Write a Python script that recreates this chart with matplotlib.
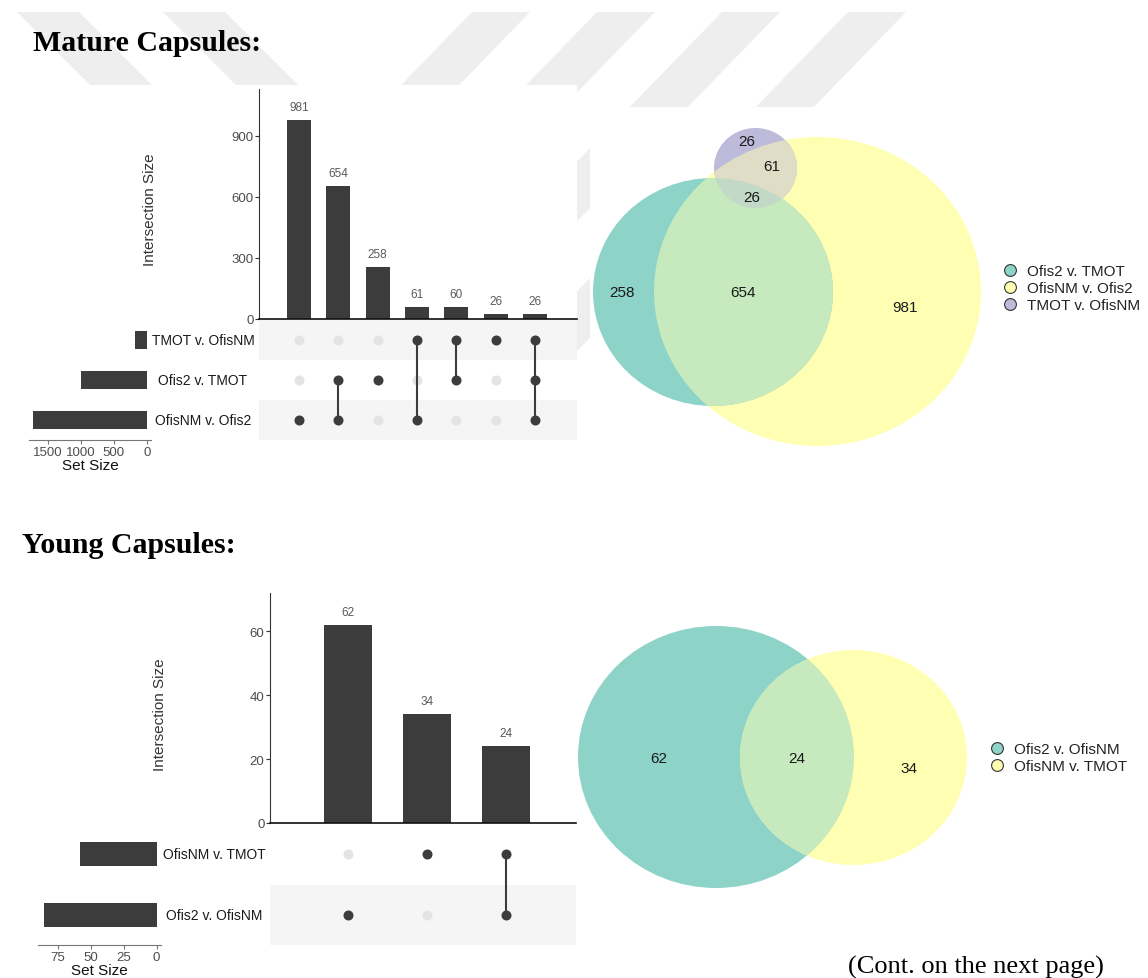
import numpy as np
import matplotlib
matplotlib.use("Agg")
import matplotlib.pyplot as plt
from matplotlib import colors as mcolors
from matplotlib import transforms
from matplotlib.patches import Ellipse, Polygon, Rectangle
from matplotlib.lines import Line2D

plt.rcParams['font.family'] = ['Liberation Sans', 'DejaVu Sans']

# --- dados: conjuntos, interseções (UpSet) e pertença de cada coluna ---
mature_sets = ["TMOT v. OfisNM", "Ofis2 v. TMOT", "OfisNM v. Ofis2"]
mature_counts = [981, 654, 258, 61, 60, 26, 26]
mature_members = [[2], [1, 2], [1], [0, 2], [0, 1], [0], [0, 1, 2]]
mature_venn_sets = ["Ofis2 v. TMOT", "OfisNM v. Ofis2", "TMOT v. OfisNM"]
# regiões do Venn -> coluna do UpSet (só T, T∩Y, só Y, só P, P∩Y, T∩Y∩P)
mature_venn_regions = [2, 1, 0, 5, 3, 6]

young_sets = ["OfisNM v. TMOT", "Ofis2 v. OfisNM"]
young_counts = [62, 34, 24]
young_members = [[1], [0], [0, 1]]
young_venn_sets = ["Ofis2 v. OfisNM", "OfisNM v. TMOT"]
# só T, T∩Y, só Y
young_venn_regions = [0, 2, 1]

TEAL, YELLOW, PURPLE = '#8DD3C7', '#FFFFB3', '#BEBADA'
BAR = '#3c3c3c'
DOT_OFF = '#e4e4e4'
SHADE = '#f5f5f5'
TICK = '#4d4d4d'

W, H = 1148, 979
fig = plt.figure(figsize=(W / 100, H / 100), dpi=100)


def px_axes(x0, y0, x1, y1):
    return fig.add_axes([x0 / W, 1 - y1 / H, (x1 - x0) / W, (y1 - y0) / H])


def mix(*cols):
    return tuple(np.mean([mcolors.to_rgb(c) for c in cols], axis=0))


# fundo da página (marca d'água em faixas + painéis brancos das figuras)
bg = px_axes(0, 0, W, H)
bg.set_xlim(0, W)
bg.set_ylim(H, 0)
bg.axis('off')
for x0 in [472, 597, 722, 848]:
    y1 = 370
    d = 0.97 * (y1 - 13)
    bg.add_patch(Polygon([(x0, 13), (x0 + 58, 13), (x0 + 58 - d, y1), (x0 - d, y1)],
                         color='#eeeeee', lw=0))
for x0 in [17, 163]:
    y1 = 86
    d = 1.0 * (y1 - 13)
    bg.add_patch(Polygon([(x0, 13), (x0 + 62, 13), (x0 + 62 + d, y1), (x0 + d, y1)],
                         color='#eeeeee', lw=0))
bg.add_patch(Rectangle((0, 86), 577, 400, color='white', lw=0))
bg.add_patch(Rectangle((590, 108), 558, 370, color='white', lw=0))

title_font = dict(family='Liberation Serif', fontweight='bold', fontsize=21.5, va='baseline')
bg.text(33, 51, "Mature Capsules:", **title_font)
bg.text(22, 553, "Young Capsules:", **title_font)
bg.text(848, 974, "(Cont. on the next page)", family='Liberation Serif',
        fontsize=19, va='baseline')


def upset(lay, sets, counts, members):
    n, m = len(counts), len(sets)
    cols = np.arange(n)

    # barras das interseções
    ax = px_axes(*lay['bars'])
    ax.bar(cols, counts, width=lay['bar_w'], color=BAR)
    for x, c in zip(cols, counts):
        ax.annotate(str(c), (x, c), xytext=(0, 5), textcoords='offset points',
                    ha='center', va='bottom', fontsize=8.5, color='#595959')
    ax.set_xlim(*lay['xlim'])
    ax.set_ylim(0, lay['ymax'])
    ax.set_yticks(lay['yticks'])
    ax.set_xticks([])
    for s in ['top', 'right']:
        ax.spines[s].set_visible(False)
    ax.spines['left'].set_color('#333333')
    ax.spines['left'].set_linewidth(0.8)
    ax.spines['bottom'].set_color('#111111')
    ax.spines['bottom'].set_linewidth(1.2)
    ax.tick_params(axis='y', length=3, width=0.8, color='#333333', labelsize=9.5,
                   labelcolor=TICK, pad=1)
    ax.text(lay['ylab'][0], lay['ylab'][1], "Intersection Size", transform=ax.transAxes,
            rotation=90, ha='center', va='center', fontsize=11, color='#333333')

    # matriz de pontos
    axm = px_axes(*lay['matrix'])
    axm.set_xlim(*lay['xlim'])
    axm.set_ylim(m - 0.5, -0.5)
    for i in lay['shaded']:
        axm.axhspan(i - 0.5, i + 0.5, color=SHADE, lw=0, zorder=0)
    for j, mem in enumerate(members):
        off = [i for i in range(m) if i not in mem]
        axm.scatter([j] * len(off), off, s=52, color=DOT_OFF, lw=0, zorder=2)
        axm.scatter([j] * len(mem), mem, s=52, color=BAR, lw=0, zorder=4)
        if len(mem) > 1:
            axm.plot([j, j], [min(mem), max(mem)], color=BAR, lw=1.5, zorder=3)
    axm.axis('off')
    tr = transforms.blended_transform_factory(axm.transAxes, axm.transData)
    for i, name in enumerate(sets):
        axm.text(lay['set_lab_x'], i, name, transform=tr, ha='center', va='center',
                 fontsize=10, color='#1a1a1a')

    # tamanho de cada conjunto
    sizes = [sum(c for c, mem in zip(counts, members) if i in mem) for i in range(m)]
    axs = px_axes(*lay['sets'])
    axs.barh(range(m), sizes, height=lay['set_h'], color=BAR)
    axs.set_xlim(*lay['set_xlim'])
    axs.set_ylim(m - 0.5, -0.5)
    axs.set_xticks(lay['set_ticks'])
    axs.set_yticks([])
    for s in ['top', 'right', 'left']:
        axs.spines[s].set_visible(False)
    axs.spines['bottom'].set_color('#777777')
    axs.spines['bottom'].set_linewidth(0.8)
    axs.tick_params(axis='x', length=3, width=0.8, color='#777777', labelsize=9.5,
                    labelcolor=TICK, pad=1)
    axs.set_xlabel("Set Size", fontsize=11, labelpad=0, color='#111111')
    axs.patch.set_alpha(0)


upset(dict(bars=(259, 90, 577, 320), matrix=(259, 321, 577, 441), sets=(29, 321, 151, 441),
           xlim=(-1.02, 7.07), ymax=1131, yticks=[0, 300, 600, 900], bar_w=0.61,
           shaded=[0, 2], set_lab_x=-0.176, ylab=(-0.343, 0.478),
           set_xlim=(1783, -65), set_ticks=[1500, 1000, 500, 0], set_h=0.43),
      mature_sets, mature_counts, mature_members)

upset(dict(bars=(270, 594, 576, 824), matrix=(270, 825, 576, 946), sets=(38, 825, 161, 946),
           xlim=(-0.987, 2.886), ymax=71.9, yticks=[0, 20, 40, 60], bar_w=0.6,
           shaded=[1], set_lab_x=-0.183, ylab=(-0.359, 0.474),
           set_xlim=(90.3, -3.4), set_ticks=[75, 50, 25, 0], set_h=0.4),
      young_sets, young_counts, young_members)


def legend(ax, names, cols, anchor):
    handles = [Line2D([], [], ls='', marker='o', ms=8.5, mfc=c, mec='#333333', mew=0.8)
               for c in cols]
    ax.legend(handles, names, loc='center left', bbox_to_anchor=anchor,
              bbox_transform=ax.transData, frameon=False, fontsize=11,
              handlelength=0.95, handletextpad=0.6, labelspacing=0.2,
              borderpad=0, borderaxespad=0, labelcolor='#222222')


# --- Venn maduras (coordenadas em pixels da área do diagrama) ---
axv = px_axes(590, 108, 1148, 480)
axv.set_xlim(590, 1148)
axv.set_ylim(480, 108)
axv.axis('off')
geo_t = ((713, 293), 240, 228)
geo_y = ((817.5, 292.5), 327, 309)
geo_p = ((755.5, 169), 83, 80)
yel = axv.add_patch(Ellipse(*geo_y, color=YELLOW, lw=0))
tea = axv.add_patch(Ellipse(*geo_t, color=TEAL, lw=0))
axv.add_patch(Ellipse(*geo_p, color=PURPLE, lw=0))
axv.add_patch(Ellipse(*geo_t, color=mix(TEAL, YELLOW), lw=0)).set_clip_path(yel)
axv.add_patch(Ellipse(*geo_p, color=mix(PURPLE, YELLOW), lw=0)).set_clip_path(yel)
axv.add_patch(Ellipse(*geo_p, color=mix(TEAL, YELLOW, PURPLE), lw=0)).set_clip_path(tea)
label_pos = [(622, 293), (743, 293), (905, 308), (747, 142), (772, 167), (752, 198)]
for (x, y), k in zip(label_pos, mature_venn_regions):
    axv.text(x, y, str(mature_counts[k]), ha='center', va='center', fontsize=11,
             color='#1a1a1a')
legend(axv, mature_venn_sets, [TEAL, YELLOW, PURPLE], (1003, 289))

# --- Venn jovens ---
axy = px_axes(560, 600, 1148, 900)
axy.set_xlim(560, 1148)
axy.set_ylim(900, 600)
axy.axis('off')
geo_t = ((716, 758), 276, 262)
geo_y = ((853.5, 758.5), 227, 215)
tea = axy.add_patch(Ellipse(*geo_t, color=TEAL, lw=0))
axy.add_patch(Ellipse(*geo_y, color=YELLOW, lw=0))
axy.add_patch(Ellipse(*geo_y, color=mix(TEAL, YELLOW), lw=0)).set_clip_path(tea)
label_pos = [(659, 759), (797, 759), (909, 769)]
for (x, y), k in zip(label_pos, young_venn_regions):
    axy.text(x, y, str(young_counts[k]), ha='center', va='center', fontsize=11,
             color='#1a1a1a')
legend(axy, young_venn_sets, [TEAL, YELLOW], (990, 758.5))

fig.savefig('out.png', dpi=100)
